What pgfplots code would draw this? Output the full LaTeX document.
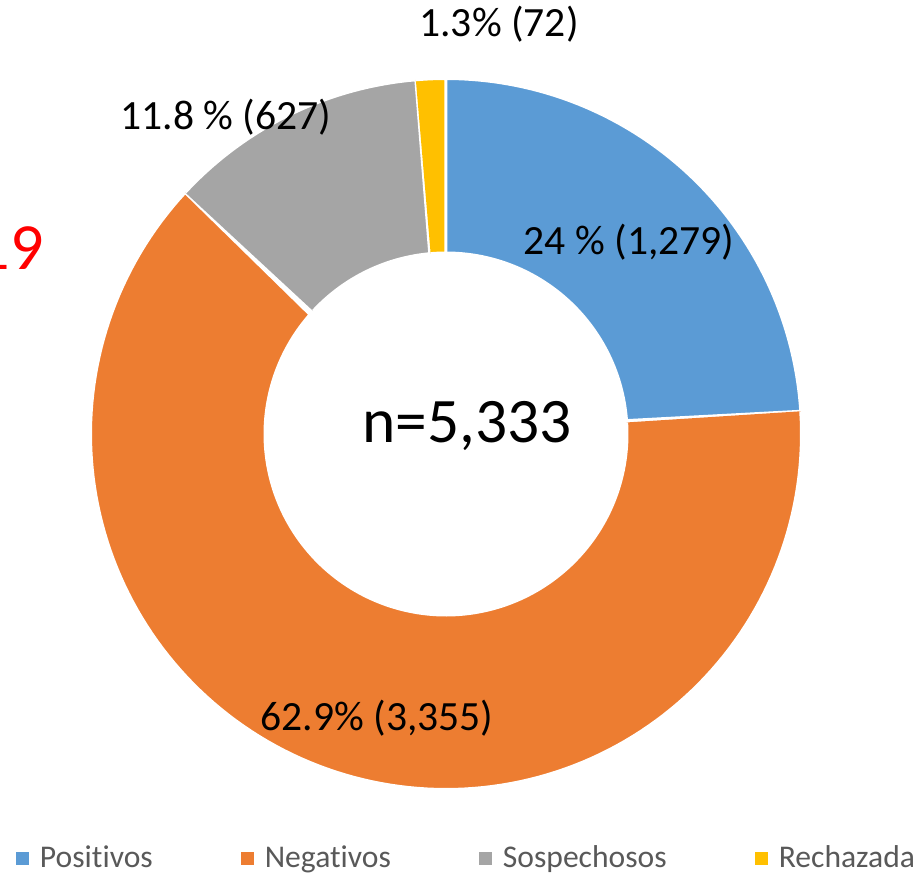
\documentclass[border=0pt]{standalone}
\usepackage{pgfplots}
\pgfplotsset{compat=1.18}
\usepackage{pgfplotstable}
\usepackage{fontspec}
\setmainfont{Carlito}[Ligatures={NoCommon}]
\definecolor{cPos}{HTML}{5B9BD5}
\definecolor{cNeg}{HTML}{ED7D31}
\definecolor{cSos}{HTML}{A5A5A5}
\definecolor{cRec}{HTML}{FFC000}
\definecolor{legendgray}{HTML}{595959}

\pgfplotstableread{
label value
Positivos 1279
Negativos 3355
Sospechosos 627
Rechazada 72
}\datatable

\newcommand\donutwedge[3]{%
\addplot[fill=#1, draw=white, line width=1.5pt, domain=0:2, samples=301, variable=\t]
({446+((\t<1)?355.5:181)*cos((\t<1)?(#2+(#3-#2)*\t):(#3+(#2-#3)*(\t-1)))},
 {440+((\t<1)?355.5:181)*sin((\t<1)?(#2+(#3-#2)*\t):(#3+(#2-#3)*(\t-1)))});
}

\begin{document}
\begin{tikzpicture}
\useasboundingbox (0,0) rectangle (457.5pt,437pt);
\pgfplotstablegetelem{0}{value}\of\datatable \let\vA\pgfplotsretval
\pgfplotstablegetelem{1}{value}\of\datatable \let\vB\pgfplotsretval
\pgfplotstablegetelem{2}{value}\of\datatable \let\vC\pgfplotsretval
\pgfplotstablegetelem{3}{value}\of\datatable \let\vD\pgfplotsretval
\pgfmathsetmacro\tot{\vA+\vB+\vC+\vD}
\pgfmathsetmacro\aA{90}
\pgfmathsetmacro\aB{90-360*(\vA/\tot)}
\pgfmathsetmacro\aC{\aB-360*(\vB/\tot)}
\pgfmathsetmacro\aD{\aC-360*(\vC/\tot)}
\pgfmathsetmacro\aE{\aD-360*(\vD/\tot)}
\begin{axis}[at={(0,0)}, anchor=south west, scale only axis,
  width=457.5pt, height=437pt, xmin=0, xmax=915, ymin=0, ymax=874,
  hide axis, clip=false,
  legend image code/.code={\fill[#1,draw=none] (0pt,-3.25pt) rectangle (6.5pt,3.25pt); \path[draw=none,fill=none] (0pt,0pt) -- (12pt,0pt);},
  legend cell align=left,
  legend style={draw=none, fill=none, inner sep=0pt, outer sep=0pt,
    at={(axis cs:16,16)}, anchor=west,
    font=\fontsize{15.8pt}{18pt}\selectfont, text=legendgray,
    legend columns=4,
    /tikz/every even column/.append style={column sep=44pt},
    nodes={inner sep=0pt}},
]
\donutwedge{cPos}{\aA}{\aB}
\addlegendentry{Positivos}
\donutwedge{cNeg}{\aB}{\aC}
\addlegendentry{Negativos}
\donutwedge{cSos}{\aC}{\aD}
\addlegendentry{Sospechosos}
\donutwedge{cRec}{\aD}{\aE}
\addlegendentry{Rechazada}

\node[anchor=base, inner sep=0pt, font=\fontsize{20.8pt}{24pt}\selectfont] at (axis cs:499,837) {1.3\% (72)};
\node[anchor=base, inner sep=0pt, font=\fontsize{20.8pt}{24pt}\selectfont] at (axis cs:226,744) {11.8 \% (627)};
\node[anchor=base, inner sep=0pt, font=\fontsize{20.8pt}{24pt}\selectfont] at (axis cs:629,619) {24 \% (1,279)};
\node[anchor=base, inner sep=0pt, font=\fontsize{20.8pt}{24pt}\selectfont] at (axis cs:377,144) {62.9\% (3,355)};
\node[anchor=base, inner sep=0pt, font=\fontsize{31.7pt}{36pt}\selectfont] at (axis cs:467,432) {n=5,333};
\node[anchor=base east, inner sep=0pt, text=red, font=\fontsize{33pt}{38pt}\selectfont] at (axis cs:44,604) {2019};
\end{axis}
\end{tikzpicture}
\end{document}
